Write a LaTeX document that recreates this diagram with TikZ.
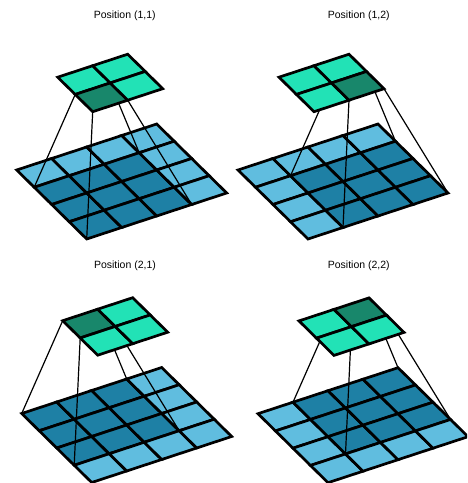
\documentclass[tikz,border=0pt]{standalone}
\usepackage{fontspec}
\setmainfont{Liberation Sans}
\definecolor{inlight}{RGB}{96,189,223}
\definecolor{indark}{RGB}{30,128,165}
\definecolor{outlight}{RGB}{34,226,182}
\definecolor{outdark}{RGB}{24,135,107}
\tikzset{
  gridcell/.style={draw=black, line width=2.7pt},
  conn/.style={draw=black, line width=1.2pt},
  ttl/.style={font=\fontsize{10.5}{12}\selectfont, inner sep=0pt}
}
% #1 name, #2 Lx, #3 Ly, #4 oi, #5 oj, #6 tx, #7 ty, #8 title
\newcommand\convpanel[8]{%
  \node[ttl] (#1title) at (#6pt,-#7pt) {#8};
  \begin{scope}[shift={(#2pt,-#3pt)}, x={(35pt,11.5pt)}, y={(17.5pt,-17.25pt)}]
    \foreach \i in {0,...,3}{\foreach \j in {0,...,3}{
      \pgfmathtruncatemacro\dk{and(and(\i>=#4,\i<=#4+2),and(\j>=#5,\j<=#5+2))}
      \ifnum\dk=1 \def\cc{indark}\else\def\cc{inlight}\fi
      \path[gridcell, fill=\cc] (\i,\j) -- (\i+1,\j) -- (\i+1,\j+1) -- (\i,\j+1) -- cycle;
    }}
    \coordinate (#1in00) at (#4,#5);
    \coordinate (#1in30) at (#4+3,#5);
    \coordinate (#1in33) at (#4+3,#5+3);
    \coordinate (#1in03) at (#4,#5+3);
    \begin{scope}[shift={(41pt,92.8pt)}]
      \coordinate (#1out00) at (#4,#5);
      \coordinate (#1out10) at (#4+1,#5);
      \coordinate (#1out11) at (#4+1,#5+1);
      \coordinate (#1out01) at (#4,#5+1);
      \draw[conn] (#1out00) -- (#1in00);
      \draw[conn] (#1out10) -- (#1in30);
      \draw[conn] (#1out11) -- (#1in33);
      \draw[conn] (#1out01) -- (#1in03);
      \foreach \i in {0,1}{\foreach \j in {0,1}{
        \pgfmathtruncatemacro\dk{and(\i==#4,\j==#5)}
        \ifnum\dk=1 \def\cc{outdark}\else\def\cc{outlight}\fi
        \path[gridcell, fill=\cc] (\i,\j) -- (\i+1,\j) -- (\i+1,\j+1) -- (\i,\j+1) -- cycle;
      }}
    \end{scope}
  \end{scope}
}
\begin{document}
\begin{tikzpicture}
  \useasboundingbox (0,0) rectangle (467pt,-483pt);
  \clip (0,0) rectangle (467pt,-483pt);
  \convpanel{pa}{16.7}{170}{0}{1}{124.7}{15.7}{Position (1,1)}
  \convpanel{pb}{238}{170}{1}{1}{358.8}{15.7}{Position (1,2)}
  \convpanel{pc}{21.7}{413.5}{0}{0}{125}{266}{Position (2,1)}
  \convpanel{pd}{258}{413.7}{1}{0}{358.8}{266}{Position (2,2)}
\end{tikzpicture}
\end{document}
